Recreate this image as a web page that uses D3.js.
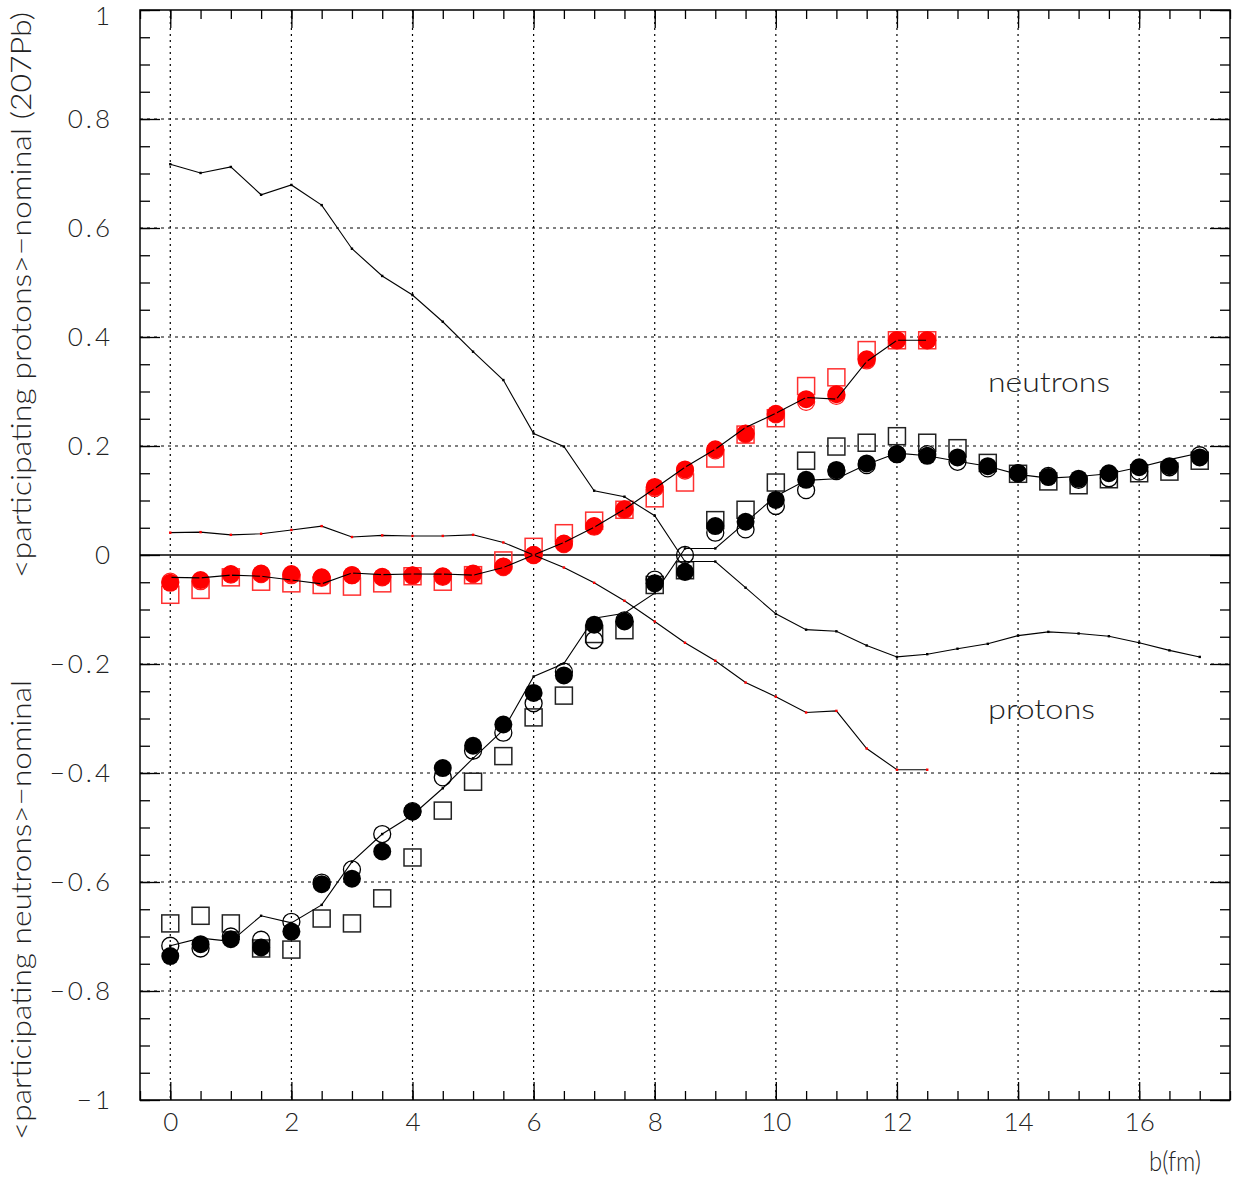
<!DOCTYPE html>
<html>
<head>
<meta charset="utf-8">
<script src="https://cdn.jsdelivr.net/npm/d3@7"></script>
<style>
  body { margin: 0; background: #fff; }
  text { font-family: "Lato", "DejaVu Sans", sans-serif; font-weight: 300; fill: #222; }
</style>
</head>
<body>
<script>
// impact parameter b (fm)
const b = [0,0.5,1,1.5,2,2.5,3,3.5,4,4.5,5,5.5,6,6.5,7,7.5,8,8.5,9,9.5,10,10.5,11,11.5,12,12.5,13,13.5,14,14.5,15,15.5,16,16.5,17];
const bRed = [0,0.5,1,1.5,2,2.5,3,3.5,4,4.5,5,5.5,6,6.5,7,7.5,8,8.5,9,9.5,10,10.5,11,11.5,12,12.5];

// black lines (neutrons)
const lineNeutronUp = [0.717,0.701,0.712,0.661,0.679,0.642,0.562,0.512,0.477,0.428,0.373,0.321,0.223,0.199,0.118,0.107,0.072,-0.012,-0.012,-0.060,-0.108,-0.137,-0.140,-0.166,-0.187,-0.182,-0.172,-0.163,-0.148,-0.141,-0.144,-0.149,-0.161,-0.175,-0.187];
const lineNeutronDown = [-0.717,-0.703,-0.709,-0.662,-0.675,-0.642,-0.563,-0.512,-0.477,-0.428,-0.373,-0.321,-0.223,-0.199,-0.116,-0.107,-0.070,0.012,0.012,0.060,0.108,0.137,0.140,0.166,0.187,0.182,0.172,0.163,0.148,0.141,0.144,0.149,0.161,0.175,0.187];
// black markers
const blackFilled = [-0.736,-0.714,-0.705,-0.720,-0.691,-0.604,-0.594,-0.544,-0.471,-0.391,-0.350,-0.311,-0.253,-0.221,-0.128,-0.122,-0.052,-0.031,0.053,0.061,0.101,0.138,0.156,0.168,0.185,0.182,0.179,0.163,0.150,0.143,0.140,0.150,0.161,0.163,0.179];
const blackOpen = [-0.717,-0.722,-0.700,-0.706,-0.673,-0.601,-0.577,-0.512,-0.470,-0.408,-0.359,-0.326,-0.272,-0.214,-0.156,-0.120,-0.045,0.000,0.041,0.047,0.090,0.119,0.154,0.165,0.185,0.185,0.171,0.159,0.150,0.145,0.138,0.141,0.153,0.161,0.183];
const blackSquare = [-0.676,-0.662,-0.676,-0.722,-0.724,-0.667,-0.676,-0.630,-0.555,-0.469,-0.416,-0.369,-0.298,-0.258,-0.145,-0.138,-0.055,-0.028,0.064,0.083,0.133,0.173,0.199,0.206,0.218,0.206,0.196,0.169,0.149,0.135,0.128,0.139,0.150,0.153,0.173];

// red lines (protons)
const lineProtonDown = [0.041,0.042,0.037,0.039,0.046,0.053,0.033,0.036,0.035,0.035,0.037,0.023,0.000,-0.023,-0.051,-0.084,-0.122,-0.161,-0.194,-0.234,-0.260,-0.289,-0.286,-0.355,-0.394,-0.394];
const lineProtonUp = [-0.041,-0.042,-0.037,-0.039,-0.046,-0.053,-0.033,-0.036,-0.035,-0.035,-0.037,-0.023,0.000,0.023,0.051,0.084,0.122,0.161,0.194,0.234,0.260,0.289,0.286,0.355,0.394,0.394];
// red markers
const redFilled = [-0.051,-0.046,-0.035,-0.034,-0.035,-0.041,-0.037,-0.040,-0.037,-0.039,-0.034,-0.021,0.000,0.021,0.053,0.084,0.125,0.157,0.194,0.223,0.259,0.286,0.295,0.359,0.394,0.394];
const redOpen = [-0.049,-0.048,-0.036,-0.035,-0.037,-0.042,-0.037,-0.041,-0.038,-0.040,-0.035,-0.022,0.000,0.020,0.052,0.083,0.123,0.155,0.192,0.222,0.258,0.281,0.292,0.357,0.394,0.394];
const redSquare = [-0.073,-0.064,-0.041,-0.049,-0.052,-0.055,-0.058,-0.052,-0.039,-0.049,-0.037,-0.010,0.015,0.040,0.063,0.083,0.104,0.133,0.177,0.221,0.251,0.310,0.326,0.376,0.394,0.394];

// ticks
const xMajor = [0,2,4,6,8,10,12,14,16];
const xMinor = [-0.5,0,0.5,1,1.5,2,2.5,3,3.5,4,4.5,5,5.5,6,6.5,7,7.5,8,8.5,9,9.5,10,10.5,11,11.5,12,12.5,13,13.5,14,14.5,15,15.5,16,16.5,17,17.5];
const yMajor = [-1,-0.8,-0.6,-0.4,-0.2,0,0.2,0.4,0.6,0.8,1];
const yGrid = [-0.8,-0.6,-0.4,-0.2,0.2,0.4,0.6,0.8];

const width = 1233, height = 1179;
const padL = 140, padR = 1230, padT = 10, padB = 1100;

const svg = d3.select("body").append("svg")
    .attr("width", width)
    .attr("height", height);

const x = d3.scaleLinear().domain([-0.5, 17.5]).range([padL, padR]);
const y = d3.scaleLinear().domain([-1, 1]).range([padB, padT]);

// grid
svg.append("g").selectAll("line").data(xMajor).enter().append("line")
    .attr("x1", d => x(d)).attr("x2", d => x(d))
    .attr("y1", padT).attr("y2", padB)
    .attr("stroke", "#000").attr("stroke-width", 1.2)
    .attr("stroke-dasharray", "2,4");
svg.append("g").selectAll("line").data(yGrid).enter().append("line")
    .attr("x1", padL).attr("x2", padR)
    .attr("y1", d => y(d)).attr("y2", d => y(d))
    .attr("stroke", "#000").attr("stroke-width", 1.2)
    .attr("stroke-dasharray", "3,4");
svg.append("line")
    .attr("x1", padL).attr("x2", padR)
    .attr("y1", y(0)).attr("y2", y(0))
    .attr("stroke", "#000").attr("stroke-width", 1.3);

// axes, ticks inward on all four sides
const fmtY = d => d === 0 ? "0" : (Math.abs(d) === 1 ? d3.format("d")(d) : d3.format(".1f")(d));

function styleAxis(g) {
    g.select(".domain").remove();
    g.selectAll("line").attr("stroke", "#000").attr("stroke-width", 1.3);
    g.selectAll("text").attr("fill", "#222").style("font-size", "26px");
}

svg.append("g").attr("transform", `translate(0,${padB})`)
    .call(d3.axisBottom(x).tickValues(xMinor).tickSize(-9).tickFormat(""))
    .call(styleAxis);
svg.append("g").attr("transform", `translate(0,${padB})`)
    .call(d3.axisBottom(x).tickValues(xMajor).tickSize(-18).tickPadding(13).tickFormat(d3.format("d")))
    .call(styleAxis);
svg.append("g").attr("transform", `translate(0,${padT})`)
    .call(d3.axisTop(x).tickValues(xMinor).tickSize(-9).tickFormat(""))
    .call(styleAxis);
svg.append("g").attr("transform", `translate(0,${padT})`)
    .call(d3.axisTop(x).tickValues(xMajor).tickSize(-18).tickFormat(""))
    .call(styleAxis);

const yMinor = d3.range(-20, 21).map(i => i / 20);
svg.append("g").attr("transform", `translate(${padL},0)`)
    .call(d3.axisLeft(y).tickValues(yMinor).tickSize(-10).tickFormat(""))
    .call(styleAxis);
const yLab = svg.append("g").attr("transform", `translate(${padL},0)`)
    .call(d3.axisLeft(y).tickValues(yMajor).tickSize(-20).tickPadding(27).tickFormat(fmtY))
    .call(styleAxis);
yLab.selectAll("text").attr("letter-spacing", "3px")
    .filter(d => d === 1).attr("dy", "0.56em");
svg.append("g").attr("transform", `translate(${padR},0)`)
    .call(d3.axisRight(y).tickValues(yMinor).tickSize(-10).tickFormat(""))
    .call(styleAxis);
svg.append("g").attr("transform", `translate(${padR},0)`)
    .call(d3.axisRight(y).tickValues(yMajor).tickSize(-20).tickFormat(""))
    .call(styleAxis);

// frame
svg.append("rect")
    .attr("x", padL).attr("y", padT)
    .attr("width", padR - padL).attr("height", padB - padT)
    .attr("fill", "none").attr("stroke", "#000").attr("stroke-width", 1.5);

// markers
function squares(xs, ys, color) {
    svg.append("g").selectAll("rect").data(ys).enter().append("rect")
        .attr("x", (d, i) => x(xs[i]) - 8.5).attr("y", d => y(d) - 8.5)
        .attr("width", 17).attr("height", 17)
        .attr("fill", "none").attr("stroke", color).attr("stroke-width", 1.5);
}
function openCircles(xs, ys, color) {
    svg.append("g").selectAll("circle").data(ys).enter().append("circle")
        .attr("cx", (d, i) => x(xs[i])).attr("cy", d => y(d)).attr("r", 8.5)
        .attr("fill", "none").attr("stroke", color).attr("stroke-width", 1.3);
}
function filledCircles(xs, ys, color) {
    svg.append("g").selectAll("circle").data(ys).enter().append("circle")
        .attr("cx", (d, i) => x(xs[i])).attr("cy", d => y(d)).attr("r", 9)
        .attr("fill", color);
}
function dotLine(xs, ys, dotColor) {
    const pts = ys.map((d, i) => [xs[i], d]);
    svg.append("path").datum(pts)
        .attr("d", d3.line().x(d => x(d[0])).y(d => y(d[1])))
        .attr("fill", "none").attr("stroke", "#000").attr("stroke-width", 1.1);
    svg.append("g").selectAll("rect").data(pts).enter().append("rect")
        .attr("x", d => x(d[0]) - 1.2).attr("y", d => y(d[1]) - 1.2)
        .attr("width", 2.4).attr("height", 2.4)
        .attr("fill", dotColor);
}

squares(b, blackSquare, "#222");
openCircles(b, blackOpen, "#000");
filledCircles(b, blackFilled, "#000");

squares(bRed, redSquare, "#ff3030");
openCircles(bRed, redOpen, "#ff2020");
filledCircles(bRed, redFilled, "#ff0000");

dotLine(b, lineNeutronUp, "#000");
dotLine(b, lineNeutronDown, "#000");
dotLine(bRed, lineProtonDown, "#ff0000");
dotLine(bRed, lineProtonUp, "#ff0000");

// labels
svg.append("text").attr("x", 988).attr("y", 392)
    .attr("textLength", 122).attr("lengthAdjust", "spacingAndGlyphs")
    .style("font-size", "27px").text("neutrons");
svg.append("text").attr("x", 988).attr("y", 719)
    .attr("textLength", 107).attr("lengthAdjust", "spacingAndGlyphs")
    .style("font-size", "27px").text("protons");
svg.append("text").attr("x", 1149).attr("y", 1171)
    .attr("textLength", 52).attr("lengthAdjust", "spacingAndGlyphs")
    .style("font-size", "27px").text("b(fm)");

svg.append("text")
    .attr("transform", "translate(31,578) rotate(-90)")
    .attr("textLength", 566).attr("lengthAdjust", "spacingAndGlyphs")
    .style("font-size", "27px").text("<participating protons>−nominal (207Pb)");
svg.append("text")
    .attr("transform", "translate(31,1140) rotate(-90)")
    .attr("textLength", 460).attr("lengthAdjust", "spacingAndGlyphs")
    .style("font-size", "27px").text("<participating neutrons>−nominal");
</script>
</body>
</html>
